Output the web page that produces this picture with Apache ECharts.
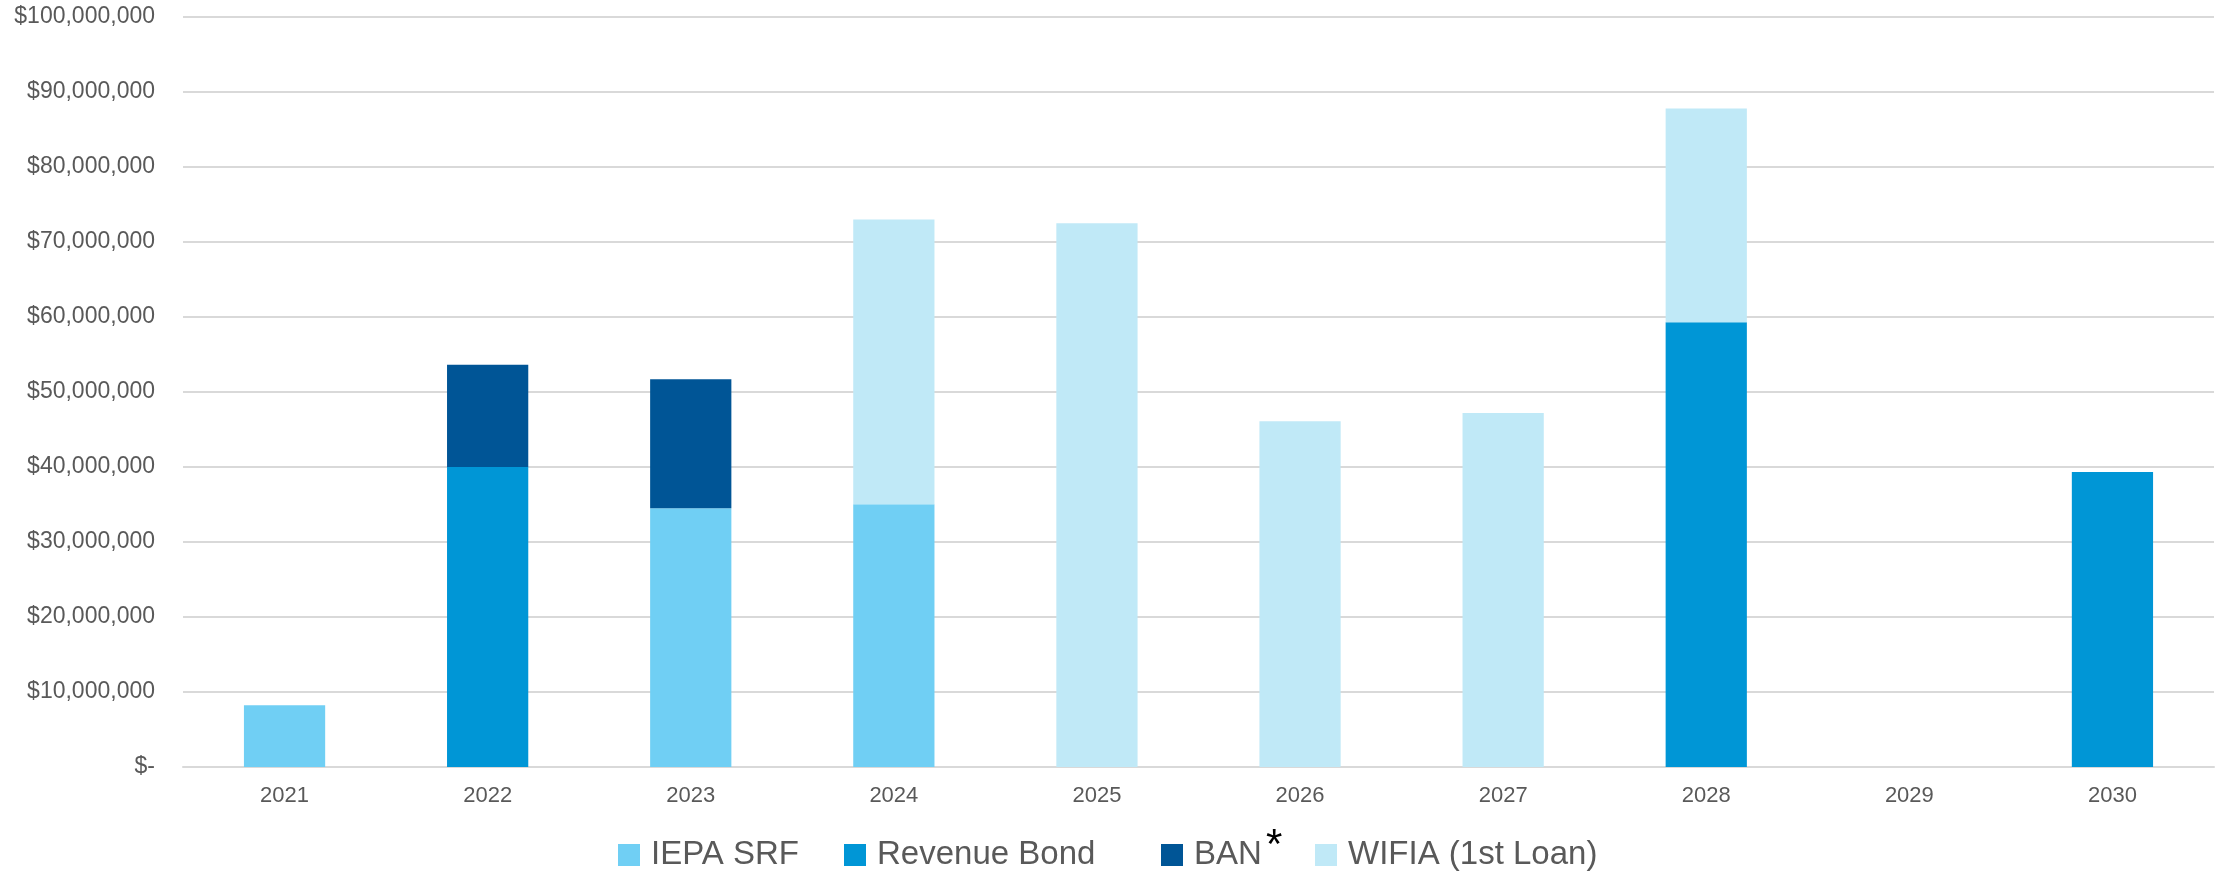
<!DOCTYPE html>
<html>
<head>
<meta charset="utf-8">
<title>Funding by year</title>
<script src="https://cdn.jsdelivr.net/npm/echarts@6/dist/echarts.min.js"></script>
<style>
  html, body { margin: 0; padding: 0; background: #fff; }
  #main { width: 2224px; height: 875px; }
</style>
</head>
<body>
<div id="main"></div>
<script>
// data (dollars)
var years = ['2021', '2022', '2023', '2024', '2025', '2026', '2027', '2028', '2029', '2030']
var iepaSrf = [8250000, null, 34500000, 35050000, null, null, null, null, null, null]
var revenueBond = [null, 40000000, null, null, null, null, null, 59300000, null, 39350000]
var ban = [null, 13650000, 17200000, null, null, null, null, null, null, null]
var wifia = [null, null, null, 37950000, 72500000, 46100000, 47200000, 28500000, null, null]

var seriesNames = ['IEPA SRF', 'Revenue Bond', 'BAN', 'WIFIA (1st Loan)']
var colors = ['#70CFF4', '#0096D6', '#005596', '#C0E9F7']

var textColor = '#595959'
var gridColor = '#D9D9D9'
var font = "'Liberation Sans', Arial, sans-serif"

function money(v) {
  if (v === 0) return '$-'
  return '$' + v.toLocaleString('en-US')
}

// one legend per item so each can sit where the original puts it
var legendLeft = [618, 844, 1161, 1315]
var legends = seriesNames.map(function (name, i) {
  return {
    data: [name],
    left: legendLeft[i],
    top: 837,
    padding: 0,
    itemWidth: 22,
    itemHeight: 22,
    icon: 'rect',
    textStyle: {
      color: textColor,
      fontFamily: font,
      fontSize: 33,
      lineHeight: 36,
      padding: [0, 0, 0, 6]
    }
  }
})

var seriesData = [iepaSrf, revenueBond, ban, wifia]

var option = {
  animation: false,
  color: colors,
  legend: legends,
  // the superscript asterisk after "BAN"
  graphic: [{
    type: 'text',
    left: 1266,
    top: 825,
    style: {
      text: '*',
      fill: '#000',
      font: '42px ' + font
    }
  }],
  grid: {
    left: 183,
    right: 10,
    top: 17,
    bottom: 108
  },
  xAxis: {
    type: 'category',
    data: years,
    axisTick: { show: false },
    axisLine: { lineStyle: { color: gridColor, width: 2 } },
    axisLabel: {
      color: textColor,
      fontFamily: font,
      fontSize: 22,
      margin: 18
    }
  },
  yAxis: {
    type: 'value',
    min: 0,
    max: 100000000,
    interval: 10000000,
    axisLine: { show: false },
    axisTick: { show: false },
    splitLine: { lineStyle: { color: gridColor, width: 2 } },
    axisLabel: {
      color: textColor,
      fontFamily: font,
      fontSize: 23,
      margin: 28,
      formatter: money
    }
  },
  series: seriesNames.map(function (name, i) {
    return {
      name: name,
      type: 'bar',
      stack: 'total',
      barWidth: '40%',
      data: seriesData[i]
    }
  })
}

var myChart = echarts.init(document.getElementById('main'))
myChart.setOption(option)
</script>
</body>
</html>
